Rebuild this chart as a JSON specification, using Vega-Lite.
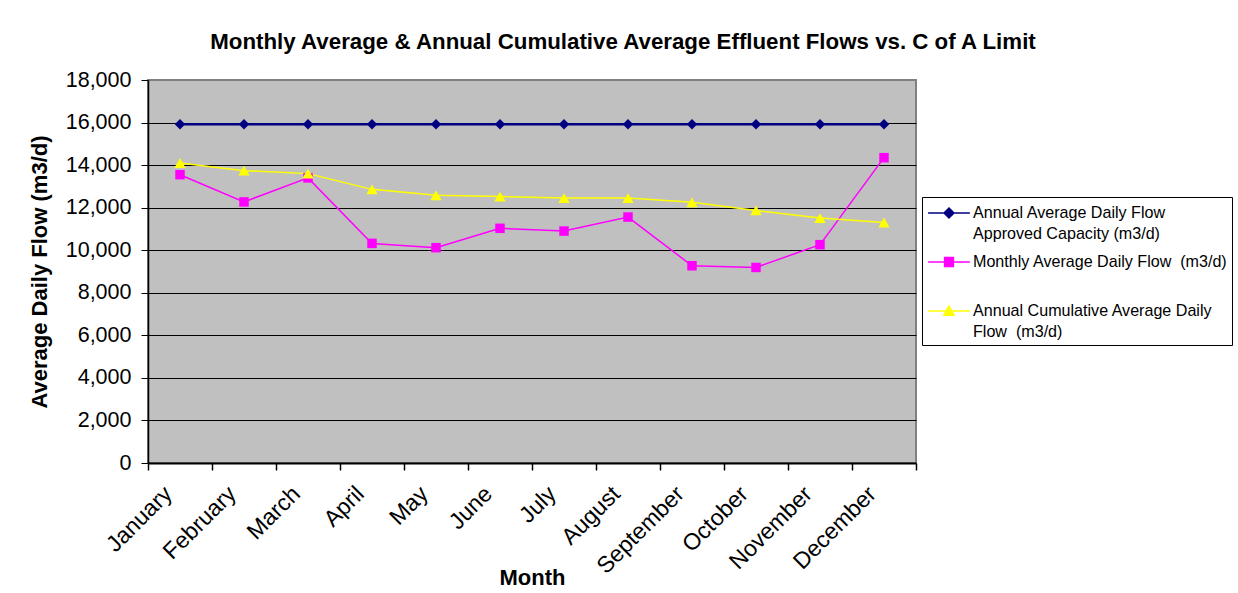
{
  "$schema": "https://vega.github.io/schema/vega-lite/v6.json",
  "width": 768,
  "height": 383,
  "autosize": {"type": "none"},
  "padding": {"left": 148, "top": 80, "right": 322, "bottom": 130},
  "background": "white",
  "title": {
    "text": "Monthly Average & Annual Cumulative Average Effluent Flows vs. C of A Limit",
    "font": "Liberation Sans",
    "fontSize": 22.3,
    "fontWeight": "bold",
    "color": "black",
    "anchor": "middle",
    "frame": "group",
    "baseline": "alphabetic",
    "offset": 32,
    "dx": 91,
    "dy": 34
  },
  "config": {
    "font": "Liberation Sans",
    "view": {"fill": "#C0C0C0", "stroke": "#808080", "strokeWidth": 2}
  },
  "data": {
    "values": [
      {"month": "January", "series": "Annual Average Daily Flow Approved Capacity (m3/d)", "value": 15920},
      {"month": "February", "series": "Annual Average Daily Flow Approved Capacity (m3/d)", "value": 15920},
      {"month": "March", "series": "Annual Average Daily Flow Approved Capacity (m3/d)", "value": 15920},
      {"month": "April", "series": "Annual Average Daily Flow Approved Capacity (m3/d)", "value": 15920},
      {"month": "May", "series": "Annual Average Daily Flow Approved Capacity (m3/d)", "value": 15920},
      {"month": "June", "series": "Annual Average Daily Flow Approved Capacity (m3/d)", "value": 15920},
      {"month": "July", "series": "Annual Average Daily Flow Approved Capacity (m3/d)", "value": 15920},
      {"month": "August", "series": "Annual Average Daily Flow Approved Capacity (m3/d)", "value": 15920},
      {"month": "September", "series": "Annual Average Daily Flow Approved Capacity (m3/d)", "value": 15920},
      {"month": "October", "series": "Annual Average Daily Flow Approved Capacity (m3/d)", "value": 15920},
      {"month": "November", "series": "Annual Average Daily Flow Approved Capacity (m3/d)", "value": 15920},
      {"month": "December", "series": "Annual Average Daily Flow Approved Capacity (m3/d)", "value": 15920},
      {"month": "January", "series": "Monthly Average Daily Flow  (m3/d)", "value": 13550},
      {"month": "February", "series": "Monthly Average Daily Flow  (m3/d)", "value": 12270},
      {"month": "March", "series": "Monthly Average Daily Flow  (m3/d)", "value": 13400},
      {"month": "April", "series": "Monthly Average Daily Flow  (m3/d)", "value": 10320},
      {"month": "May", "series": "Monthly Average Daily Flow  (m3/d)", "value": 10120},
      {"month": "June", "series": "Monthly Average Daily Flow  (m3/d)", "value": 11030},
      {"month": "July", "series": "Monthly Average Daily Flow  (m3/d)", "value": 10900},
      {"month": "August", "series": "Monthly Average Daily Flow  (m3/d)", "value": 11560},
      {"month": "September", "series": "Monthly Average Daily Flow  (m3/d)", "value": 9270},
      {"month": "October", "series": "Monthly Average Daily Flow  (m3/d)", "value": 9190},
      {"month": "November", "series": "Monthly Average Daily Flow  (m3/d)", "value": 10260},
      {"month": "December", "series": "Monthly Average Daily Flow  (m3/d)", "value": 14350},
      {"month": "January", "series": "Annual Cumulative Average Daily Flow  (m3/d)", "value": 14100},
      {"month": "February", "series": "Annual Cumulative Average Daily Flow  (m3/d)", "value": 13740},
      {"month": "March", "series": "Annual Cumulative Average Daily Flow  (m3/d)", "value": 13600},
      {"month": "April", "series": "Annual Cumulative Average Daily Flow  (m3/d)", "value": 12860},
      {"month": "May", "series": "Annual Cumulative Average Daily Flow  (m3/d)", "value": 12580},
      {"month": "June", "series": "Annual Cumulative Average Daily Flow  (m3/d)", "value": 12520},
      {"month": "July", "series": "Annual Cumulative Average Daily Flow  (m3/d)", "value": 12450},
      {"month": "August", "series": "Annual Cumulative Average Daily Flow  (m3/d)", "value": 12450},
      {"month": "September", "series": "Annual Cumulative Average Daily Flow  (m3/d)", "value": 12250},
      {"month": "October", "series": "Annual Cumulative Average Daily Flow  (m3/d)", "value": 11870},
      {"month": "November", "series": "Annual Cumulative Average Daily Flow  (m3/d)", "value": 11510},
      {"month": "December", "series": "Annual Cumulative Average Daily Flow  (m3/d)", "value": 11300}
    ]
  },
  "encoding": {
    "x": {
      "field": "month",
      "type": "nominal",
      "sort": ["January", "February", "March", "April", "May", "June", "July", "August", "September", "October", "November", "December"],
      "scale": {"type": "band", "paddingInner": 0, "paddingOuter": 0},
      "axis": {
        "title": "Month",
        "titleFont": "Liberation Sans",
        "titleFontSize": 22,
        "titleFontWeight": "bold",
        "titleColor": "black",
        "titleBaseline": "alphabetic",
        "titleY": 121,
        "labelAngle": -45,
        "labelAlign": "right",
        "labelBaseline": "middle",
        "labelFont": "Liberation Sans",
        "labelFontSize": 23,
        "labelColor": "black",
        "labelPadding": 20,
        "labelOffset": -12,
        "tickBand": "extent",
        "tickSize": 7,
        "tickColor": "black",
        "tickWidth": 1.5,
        "domainColor": "black",
        "domainWidth": 2,
        "grid": false
      }
    },
    "y": {
      "field": "value",
      "type": "quantitative",
      "scale": {"domain": [0, 18000], "nice": false},
      "axis": {
        "title": "Average Daily Flow (m3/d)",
        "titleFont": "Liberation Sans",
        "titleFontSize": 22,
        "titleFontWeight": "bold",
        "titleColor": "black",
        "titleBaseline": "alphabetic",
        "titleAngle": -90,
        "titleX": -102,
        "titleY": 191.5,
        "titleAlign": "center",
        "values": [0, 2000, 4000, 6000, 8000, 10000, 12000, 14000, 16000, 18000],
        "format": ",d",
        "labelFont": "Liberation Sans",
        "labelFontSize": 21.5,
        "labelColor": "black",
        "labelPadding": 10,
        "tickSize": 7,
        "tickColor": "black",
        "domainColor": "black",
        "domainWidth": 1.5,
        "grid": true,
        "gridColor": {"condition": {"test": "datum.value == 18000 || datum.value == 0", "value": "#808080"}, "value": "black"},
        "gridWidth": 1
      }
    },
    "color": {
      "field": "series",
      "type": "nominal",
      "scale": {
        "domain": ["Annual Average Daily Flow Approved Capacity (m3/d)", "Monthly Average Daily Flow  (m3/d)", "Annual Cumulative Average Daily Flow  (m3/d)"],
        "range": ["#000080", "#FF00FF", "#FFFF00"]
      },
      "legend": {
        "title": null,
        "orient": "none",
        "legendX": 774,
        "legendY": 117,
        "padding": 4,
        "strokeColor": "black",
        "fillColor": "white",
        "symbolSize": 484,
        "symbolStrokeWidth": 1.5,
        "rowPadding": 7,
        "labelOffset": 23,
        "labelLimit": 400,
        "labelFont": "Liberation Sans",
        "labelFontSize": 16.1,
        "labelColor": "black",
        "labelExpr": "datum.label == 'Annual Average Daily Flow Approved Capacity (m3/d)' ? ['Annual Average Daily Flow', 'Approved Capacity (m3/d)'] : datum.label == 'Monthly Average Daily Flow  (m3/d)' ? ['Monthly Average Daily Flow\u00a0 (m3/d)', ' '] : ['Annual Cumulative Average Daily', 'Flow\u00a0 (m3/d)']",
        "encode": {
          "labels": {"update": {"lineHeight": {"value": 21}}},
          "symbols": {
            "update": {
              "shape": {"signal": "datum.value == 'Annual Average Daily Flow Approved Capacity (m3/d)' ? 'M-0.9,0H2.9M1,-0.45L1.45,0L1,0.45L0.55,0Z' : datum.value == 'Monthly Average Daily Flow  (m3/d)' ? 'M-0.9,0H2.9M0.6,-0.4H1.4V0.4H0.6Z' : 'M-0.9,0H2.9M1,-0.45L1.47,0.38H0.53Z'"},
              "size": {"value": 484},
              "fill": {"scale": "color", "field": "value"},
              "stroke": {"scale": "color", "field": "value"},
              "strokeWidth": {"value": 1.5},
              "opacity": {"value": 1}
            }
          }
        }
      }
    }
  },
  "layer": [
    {
      "mark": {"type": "line"},
      "encoding": {
        "strokeWidth": {
          "condition": {"test": "datum.series == 'Annual Average Daily Flow Approved Capacity (m3/d)'", "value": 2.5},
          "value": 1.5
        }
      }
    },
    {
      "transform": [{"filter": "datum.series == 'Annual Average Daily Flow Approved Capacity (m3/d)'"}],
      "mark": {"type": "point", "filled": true, "opacity": 1, "shape": "diamond", "size": 110}
    },
    {
      "transform": [{"filter": "datum.series == 'Monthly Average Daily Flow  (m3/d)'"}],
      "mark": {"type": "point", "filled": true, "opacity": 1, "shape": "square", "size": 90}
    },
    {
      "transform": [{"filter": "datum.series == 'Annual Cumulative Average Daily Flow  (m3/d)'"}],
      "mark": {"type": "point", "filled": true, "opacity": 1, "shape": "triangle-up", "size": 130}
    }
  ]
}
